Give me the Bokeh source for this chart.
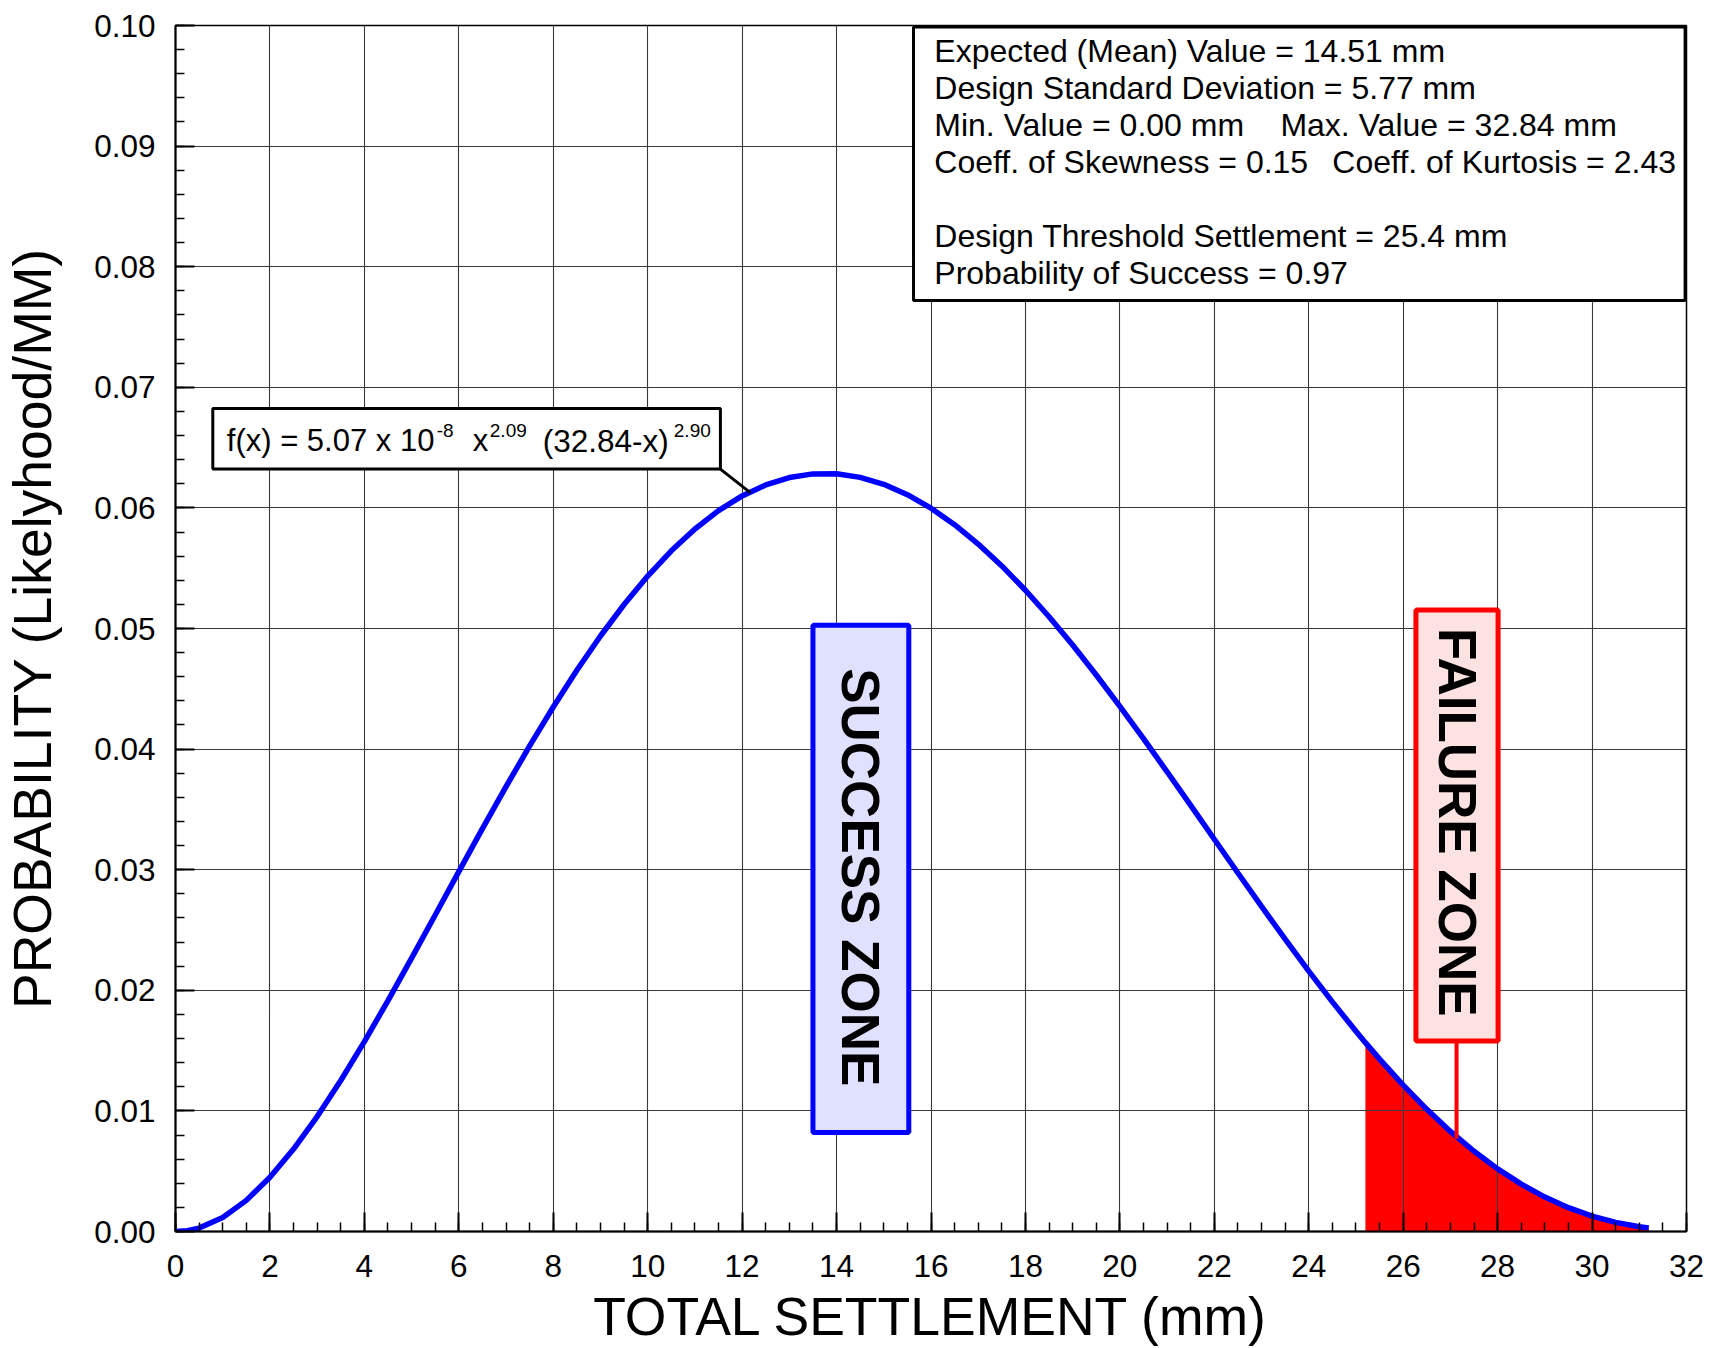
import numpy as np
from bokeh.plotting import figure
from bokeh.models import Range1d, FixedTicker, PrintfTickFormatter, Label, ColumnDataSource
from bokeh.core.properties import value
from bokeh.embed import file_html
from bokeh.resources import INLINE

# ---------------- data ----------------
settlement_mm = [0, 0.25, 0.5, 1, 1.5, 2, 2.5, 3, 3.5, 4, 4.5, 5, 5.5, 6, 6.5, 7, 7.5, 8, 8.5,
                 9, 9.5, 10, 10.5, 11, 11.5, 12, 12.5, 13, 13.5, 14, 14.5, 15, 15.5, 16, 16.5,
                 17, 17.5, 18, 18.5, 19, 19.5, 20, 20.5, 21, 21.5, 22, 22.5, 23, 23.5, 24, 24.5,
                 25, 25.2, 25.5, 26, 26.5, 27, 27.5, 28, 28.5, 29, 29.5, 30, 30.5, 31, 31.2]
probability = [0.0, 0.000068, 0.000284, 0.001159, 0.002580, 0.004493, 0.006832, 0.009530,
               0.012523, 0.015747, 0.019149, 0.022666, 0.026246, 0.029839, 0.033401, 0.036888,
               0.040262, 0.043489, 0.046537, 0.049379, 0.051990, 0.054350, 0.056443, 0.058254,
               0.059773, 0.060992, 0.061908, 0.062516, 0.062821, 0.062824, 0.062531, 0.061953,
               0.061097, 0.059977, 0.058608, 0.057005, 0.055186, 0.053169, 0.050976, 0.048626,
               0.046143, 0.043544, 0.040866, 0.038119, 0.035331, 0.032526, 0.029727, 0.026957,
               0.024239, 0.021594, 0.019042, 0.016603, 0.015660, 0.014294, 0.012132, 0.010130,
               0.008301, 0.006654, 0.005195, 0.003929, 0.002857, 0.001976, 0.001278, 0.000755,
               0.000389, 0.000282]
failure_start_mm = 25.2

x_ticks = [0, 2, 4, 6, 8, 10, 12, 14, 16, 18, 20, 22, 24, 26, 28, 30, 32]
y_ticks = [0.00, 0.01, 0.02, 0.03, 0.04, 0.05, 0.06, 0.07, 0.08, 0.09, 0.10]

x_title = "TOTAL SETTLEMENT (mm)"
y_title = "PROBABILITY (Likelyhood/MM)"

info_lines = [
    ["Expected (Mean) Value = 14.51 mm"],
    ["Design Standard Deviation = 5.77 mm"],
    ["Min. Value = 0.00 mm", "Max. Value = 32.84 mm"],
    ["Coeff. of Skewness = 0.15", "Coeff. of Kurtosis = 2.43"],
    [],
    ["Design Threshold Settlement = 25.4 mm"],
    ["Probability of Success = 0.97"],
]
formula_parts = ["f(x) = 5.07 x 10", "-8", "x", "2.09", "(32.84-x)", "2.90"]
success_label = "SUCCESS ZONE"
failure_label = "FAILURE ZONE"

FONT = "Liberation Sans, Arial, sans-serif"

# ---------------- figure ----------------
p = figure(width=1711, height=1348, x_range=Range1d(0, 32), y_range=Range1d(0, 0.10),
           output_backend="svg", toolbar_location=None,
           min_border_left=175, min_border_right=25, min_border_top=25, min_border_bottom=114)
p.background_fill_color = "white"
p.border_fill_color = "white"
p.outline_line_color = "black"
p.outline_line_width = 1.5

# grid
for g in (p.xgrid, p.ygrid):
    g.grid_line_color = "#3a3a3a"
    g.grid_line_width = 1.1
p.xgrid.ticker = FixedTicker(ticks=x_ticks)
p.ygrid.ticker = FixedTicker(ticks=y_ticks)

# axes
p.xaxis.ticker = FixedTicker(ticks=x_ticks, minor_ticks=list(np.arange(0, 32.01, 0.5)))
p.yaxis.ticker = FixedTicker(ticks=y_ticks, minor_ticks=list(np.round(np.arange(0, 0.1001, 0.002), 4)))
p.yaxis.formatter = PrintfTickFormatter(format="%.2f")
for ax in (p.xaxis[0], p.yaxis[0]):
    ax.axis_line_color = "black"
    ax.axis_line_width = 2
    ax.major_tick_in = 19
    ax.major_tick_out = 0
    ax.minor_tick_in = 9
    ax.minor_tick_out = 0
    ax.major_tick_line_color = "black"
    ax.major_tick_line_width = 2
    ax.minor_tick_line_color = "black"
    ax.minor_tick_line_width = 1.5
    ax.major_label_text_font = FONT
    ax.major_label_text_font_size = "31.5px"
    ax.major_label_text_color = "black"
    ax.axis_label_text_font = FONT
    ax.axis_label_text_font_size = "53.5px"
    ax.axis_label_text_font_style = "normal"
    ax.axis_label_text_color = "black"
p.xaxis.axis_label = x_title
p.yaxis.axis_label = y_title
p.xaxis.major_label_standoff = 23
p.yaxis.major_label_standoff = 20
p.xaxis.axis_label_standoff = 7
p.yaxis.axis_label_standoff = 29

# ---------------- marks ----------------
src = ColumnDataSource(dict(x=settlement_mm, y=probability))
fx = [x for x in settlement_mm if x >= failure_start_mm]
fy = [y for x, y in zip(settlement_mm, probability) if x >= failure_start_mm]
fill = p.varea(x=fx, y1=[0] * len(fx), y2=fy, fill_color="#ff0000", fill_alpha=1.0)
fill.level = "image"

p.line("x", "y", source=src, line_color="#0000ff", line_width=5.5)

# info box
p.quad(left=[15.63], right=[31.97], bottom=[0.0772], top=[0.09987],
       fill_color="white", line_color="black", line_width=3)
line_gap = 0.00307
second_col = [23.40, 24.50]
for i, parts in enumerate(info_lines):
    for j, t in enumerate(parts):
        p.add_layout(Label(x=16.07 if j == 0 else second_col[i - 2], y=0.09786 - i * line_gap,
                           text=t, text_font=FONT, text_font_size="32px",
                           text_color="black", text_baseline="alphabetic"))

# formula box + leader
p.quad(left=[0.79], right=[11.54], bottom=[0.06322], top=[0.06824],
       fill_color="white", line_color="black", line_width=3)
p.line([11.54, 12.18], [0.06322, 0.06124], line_color="black", line_width=3)
f_base = 0.06555
f_offsets = [0, 210, 246, 263, 316, 447]
f_sizes = ["31px", "19px", "31px", "19px", "31.5px", "19px"]
f_raise = [0, 10, 0, 10, 0, 10]
for t, off, sz, r in zip(formula_parts, f_offsets, f_sizes, f_raise):
    p.add_layout(Label(x=1.086, y=f_base, x_offset=off, y_offset=r, text=t, text_font=FONT,
                       text_font_size=sz, text_color="black", text_baseline="alphabetic"))

# success zone box
p.quad(left=[13.50], right=[15.53], bottom=[0.00821], top=[0.05027],
       fill_color="#e0e0ff", line_color="#0000ff", line_width=5)
p.add_layout(Label(x=14.51, y=0.02937, text=success_label, angle=-np.pi / 2,
                   text_font=FONT, text_font_size="53px", text_font_style="bold",
                   text_color="black", text_align="center", text_baseline="middle"))

# failure zone box + leader
p.line([27.13, 27.13], [0.01579, 0.00769], line_color="#ff0000", line_width=4)
p.quad(left=[26.27], right=[28.01], bottom=[0.01579], top=[0.05154],
       fill_color="#fde2e2", line_color="#ff0000", line_width=5)
p.add_layout(Label(x=27.15, y=0.03393, text=failure_label, angle=-np.pi / 2,
                   text_font=FONT, text_font_size="53px", text_font_style="bold",
                   text_color="black", text_align="center", text_baseline="middle"))

open("out.html", "w").write(file_html(p, INLINE))
